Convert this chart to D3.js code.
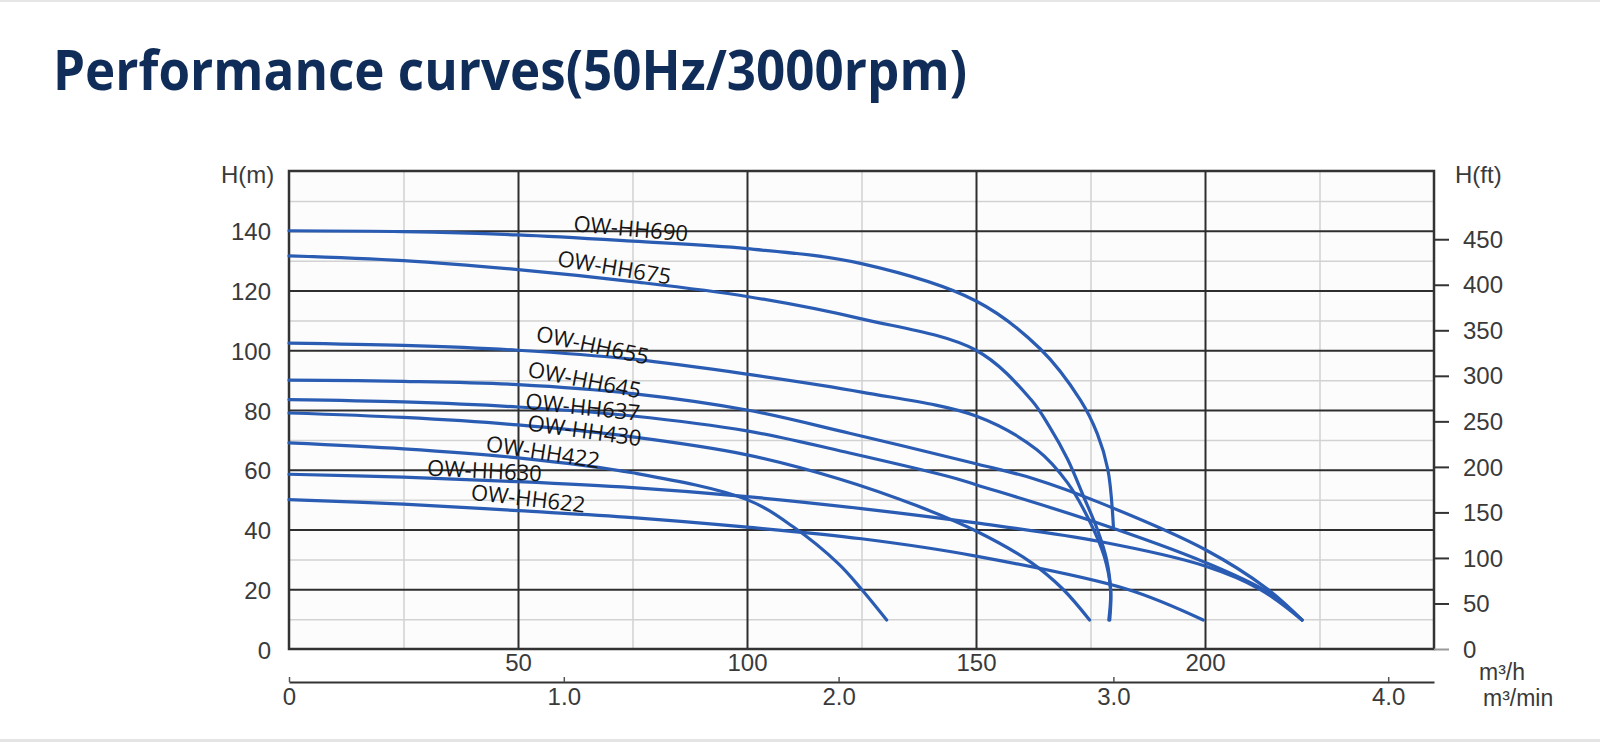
<!DOCTYPE html>
<html>
<head>
<meta charset="utf-8">
<script src="https://cdn.jsdelivr.net/npm/d3@7/dist/d3.min.js"></script>
<style>
  html, body { margin: 0; padding: 0; background: #fff; }
  svg { display: block; }
  .tick text { font-family: "Liberation Sans", Arial, sans-serif; font-size: 24px; fill: #3a3a3a; }
  .unit { font-family: "Liberation Sans", Arial, sans-serif; font-size: 24px; fill: #3a3a3a; }
  .unit.small { font-size: 23px; }
  .model { font-family: "Open Sans", "Noto Sans", sans-serif; font-size: 22px; fill: #151515; }
</style>
</head>
<body>
<svg id="chart"></svg>
<script>
// axis ticks
const flowTicks = [50, 100, 150, 200];
const flowMinTicks = [0, 1, 2, 3, 4];
const headTicks = [0, 20, 40, 60, 80, 100, 120, 140];
const headFtTicks = [0, 50, 100, 150, 200, 250, 300, 350, 400, 450];
const minorFlow = [25, 75, 125, 175, 225];
const minorHead = [10, 30, 50, 70, 90, 110, 130, 150];

// pump curves, [flow m3/h, head m]
const models = ['OW-HH690', 'OW-HH675', 'OW-HH655', 'OW-HH645', 'OW-HH637', 'OW-HH430', 'OW-HH422', 'OW-HH630', 'OW-HH622'];
const hh690 = [[0,140],[25,139.7],[50,138.6],[75,136.5],[100,134],[125,129],[150,116.5],[164,100.5],[172.8,83.3],[176.5,72],[178.8,60],[180,41]];
const hh675 = [[0,131.6],[25,130],[50,127],[75,123],[100,118],[125,110.5],[150,100],[162,83.5],[166,74.5],[170,63.5],[173.5,51],[176.5,40],[178.5,30],[179.4,19],[179,9.7]];
const hh655 = [[0,102.4],[25,101.6],[50,100],[75,97],[100,92],[125,86],[150,78],[163.3,66.7],[170,55.6],[175,42.2],[178,31],[179.4,20],[179.2,9.7]];
const hh645 = [[0,90],[25,89.6],[50,88.5],[75,85.5],[100,80],[122.4,72.2],[150,62],[162.6,57],[177,49],[200,33.3],[213.7,20],[221.2,9.7]];
const hh637 = [[0,83.5],[25,82.7],[50,81],[75,78],[100,73],[122.4,65.6],[145.8,57],[150,55],[175,43],[200,29],[213.7,19],[221.2,9.7]];
const hh430 = [[0,79],[25,77.5],[50,75],[75,71],[100,65],[120,57],[137,48],[150,39.5],[162,29],[169,20],[174.8,9.7]];
const hh422 = [[0,69],[25,67],[50,64],[75,59],[100,50],[110,41],[120,28.5],[125,20],[130.5,9.7]];
const hh630 = [[0,58.5],[25,57.5],[50,56],[75,54],[100,51],[125,47],[150,42.2],[177,36],[200,27.8],[212,20],[221.2,9.7]];
const hh622 = [[0,50],[25,48.5],[50,46.3],[75,44],[100,40.8],[125,36.9],[150,31.1],[183,20],[199.6,9.7]];
const curves = [hh690, hh675, hh655, hh645, hh637, hh430, hh422, hh630, hh622];

// where each model name sits (data units) and its tilt
const labelPos = [
  {x: 62.0, y: 139.8, a: 5},
  {x: 58.4, y: 128.3, a: 9.5},
  {x: 53.7, y: 103.2, a: 12},
  {x: 51.9, y: 91.2, a: 11},
  {x: 51.5, y: 80.4, a: 6},
  {x: 51.9, y: 73.2, a: 8},
  {x: 42.8, y: 66.3, a: 8.8},
  {x: 30.1, y: 58.1, a: 3},
  {x: 39.6, y: 50.0, a: 6.6}
];

const WIDTH = 1600, HEIGHT = 742;
const plotL = 289, plotR = 1434, plotT = 171, plotB = 649;
const FT = 3.28084;

const svg = d3.select('#chart').attr('width', WIDTH).attr('height', HEIGHT);

const x = d3.scaleLinear().domain([0, 250]).range([plotL, plotR]);
const xMin = d3.scaleLinear().domain([0, 250 / 60]).range([plotL, plotR]);
const y = d3.scaleLinear().domain([0, 160]).range([plotB, plotT]);
const yFt = d3.scaleLinear().domain([0, 160 * FT]).range([plotB, plotT]);

// page frame lines
svg.append('rect').attr('x', 0).attr('y', 0).attr('width', WIDTH).attr('height', 2).attr('fill', '#e6e6e6');
svg.append('rect').attr('x', 0).attr('y', HEIGHT - 3).attr('width', WIDTH).attr('height', 3).attr('fill', '#e4e4e4');

// title
svg.append('text')
  .attr('x', 53).attr('y', 90)
  .attr('textLength', 914).attr('lengthAdjust', 'spacingAndGlyphs')
  .style('font-family', '"Open Sans", "Noto Sans", sans-serif')
  .style('font-weight', 700).style('font-size', '55px')
  .style('fill', '#0f2d58')
  .text('Performance curves(50Hz/3000rpm)');

// plot background
svg.append('rect')
  .attr('x', plotL).attr('y', plotT)
  .attr('width', plotR - plotL).attr('height', plotB - plotT)
  .attr('fill', '#fcfcfc');

function grid(axis, transform, color, w) {
  const g = svg.append('g').attr('transform', transform).call(axis);
  g.select('.domain').remove();
  g.selectAll('.tick line').attr('stroke', color).attr('stroke-width', w);
  g.selectAll('.tick text').remove();
  return g;
}

grid(d3.axisBottom(x).tickValues(minorFlow).tickSize(-(plotB - plotT)), `translate(0,${plotB})`, '#d2d2d2', 1.5);
grid(d3.axisLeft(y).tickValues(minorHead).tickSize(-(plotR - plotL)), `translate(${plotL},0)`, '#d2d2d2', 1.5);
grid(d3.axisBottom(x).tickValues(flowTicks).tickSize(-(plotB - plotT)), `translate(0,${plotB})`, '#2e2e2e', 2);
grid(d3.axisLeft(y).tickValues(headTicks.filter(d => d > 0)).tickSize(-(plotR - plotL)), `translate(${plotL},0)`, '#2e2e2e', 2);

svg.append('rect')
  .attr('x', plotL).attr('y', plotT)
  .attr('width', plotR - plotL).attr('height', plotB - plotT)
  .attr('fill', 'none').attr('stroke', '#333').attr('stroke-width', 2.5);

// curves
const line = d3.line()
  .x(d => x(d[0]))
  .y(d => y(d[1]))
  .curve(d3.curveCatmullRom.alpha(0.5));

svg.append('g')
  .selectAll('path')
  .data(curves)
  .join('path')
  .attr('d', line)
  .attr('fill', 'none')
  .attr('stroke', '#2a5cb3')
  .attr('stroke-width', 3.2)
  .attr('stroke-linecap', 'round');

// model names
svg.append('g')
  .selectAll('text')
  .data(models)
  .join('text')
  .attr('class', 'model')
  .attr('transform', (d, i) => `translate(${x(labelPos[i].x)},${y(labelPos[i].y)}) rotate(${labelPos[i].a})`)
  .text(d => d);

// left axis H(m)
const yAxis = svg.append('g')
  .attr('transform', `translate(${plotL},0)`)
  .call(d3.axisLeft(y).tickValues(headTicks).tickSize(0).tickPadding(18));
yAxis.select('.domain').remove();
yAxis.selectAll('.tick text').attr('dy', '0.38em');

svg.append('text').attr('class', 'unit')
  .attr('x', 221).attr('y', 183).text('H(m)');

// right axis H(ft)
const ftAxis = svg.append('g')
  .attr('transform', `translate(${plotR},0)`)
  .call(d3.axisRight(yFt).tickValues(headFtTicks).tickSize(15).tickPadding(14));
ftAxis.select('.domain').remove();
ftAxis.selectAll('.tick line').attr('stroke', '#333').attr('stroke-width', 2);
ftAxis.selectAll('.tick').filter(d => d === 0).select('line').attr('stroke', '#999');
ftAxis.selectAll('.tick text').attr('dy', '0.34em');

svg.append('text').attr('class', 'unit')
  .attr('x', 1455).attr('y', 183).text('H(ft)');

// bottom axis m3/h
const xAxis = svg.append('g')
  .attr('transform', `translate(0,${plotB})`)
  .call(d3.axisBottom(x).tickValues(flowTicks).tickSize(0).tickPadding(5));
xAxis.select('.domain').remove();

svg.append('text').attr('class', 'unit small')
  .attr('x', 1479).attr('y', 680).text('m³/h');

// second bottom axis m3/min
const minAxis = svg.append('g')
  .attr('transform', 'translate(0,682)')
  .call(d3.axisBottom(xMin).tickValues(flowMinTicks).tickSizeInner(-5).tickSizeOuter(0).tickPadding(6)
    .tickFormat(d => d === 0 ? '0' : d3.format('.1f')(d)));
minAxis.select('.domain').attr('stroke', '#333').attr('stroke-width', 2);
minAxis.selectAll('.tick line').attr('stroke', '#555').attr('stroke-width', 1.5);

svg.append('text').attr('class', 'unit small')
  .attr('x', 1483).attr('y', 706).text('m³/min');
</script>
</body>
</html>
